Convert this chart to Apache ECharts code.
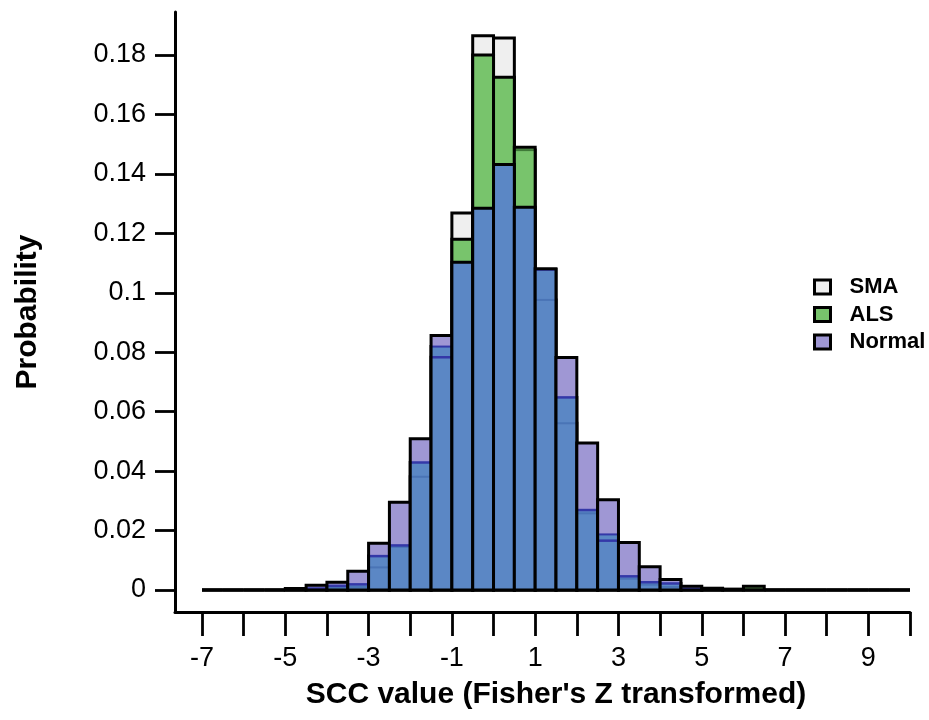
<!DOCTYPE html>
<html>
<head>
<meta charset="utf-8">
<script src="https://cdn.jsdelivr.net/npm/echarts@6/dist/echarts.min.js"></script>
<style>
html,body{margin:0;padding:0;background:#fff;}
#chart{width:929px;height:720px;}
</style>
</head>
<body>
<div id="chart"></div>
<script>
// Bin starts (width 0.5) from -7 to 9.5
var binStarts = [-7,-6.5,-6,-5.5,-5,-4.5,-4,-3.5,-3,-2.5,-2,-1.5,-1,-0.5,0,0.5,1,1.5,2,2.5,3,3.5,4,4.5,5,5.5,6,6.5,7,7.5,8,8.5,9,9.5];
var binWidth = 0.5;
var smaValues = [0,0,0,0,0,0,0.0008,0.001,0.0076,0.0145,0.0381,0.0819,0.1268,0.1865,0.1857,0.148,0.0976,0.0561,0.0258,0.0187,0.0038,0.0018,0.001,0,0,0,0,0,0,0,0,0,0,0];
var alsValues = [0,0,0,0,0,0.0005,0.0014,0.0019,0.0114,0.015,0.0429,0.0783,0.118,0.18,0.1725,0.149,0.1078,0.0648,0.0269,0.0166,0.0046,0.0026,0.0022,0.0004,0.0003,0,0.0013,0,0,0,0,0,0,0];
var normalValues = [0,0,0,0,0.0005,0.0016,0.0026,0.0063,0.0157,0.0295,0.0509,0.0856,0.1103,0.1284,0.1432,0.1288,0.1081,0.0782,0.0495,0.0304,0.016,0.0078,0.0035,0.0013,0.0006,0.0003,0,0,0,0,0,0,0,0];
var xTickLabels = ['-7','-5','-3','-1','1','3','5','7','9'];
var yTickLabels = ['0','0.02','0.04','0.06','0.08','0.1','0.12','0.14','0.16','0.18'];
var seriesNames = ['SMA','ALS','Normal'];

var C = {
  sma: '#efefef', als: '#78c46c', purple: '#9f97d4', blue: '#5b87c5',
  darkBlue: '#3438a8', faintBlue: '#4a74b6', darkGreen: '#3f7a38', black: '#000'
};
var LW = 3;

function mkData(vals){
  return binStarts.map(function(s,i){ return [s, s+binWidth, vals[i]]; });
}
function hline(api, x0, x1, v, color, w){
  var p0 = api.coord([x0, v]), p1 = api.coord([x1, v]);
  return {type:'line', shape:{x1:p0[0], y1:p0[1], x2:p1[0], y2:p1[1]}, style:{stroke:color, lineWidth:w}};
}
function rectEl(api, x0, x1, v0, v1, style){
  var a = api.coord([x0, v1]), b = api.coord([x1, v0]);
  return {type:'rect', shape:{x:a[0], y:a[1], width:b[0]-a[0], height:b[1]-a[1]}, style:style};
}

function renderSMA(params, api){
  var x0 = api.value(0), x1 = api.value(1), v = api.value(2);
  if (v <= 0) return hline(api, x0, x1, 0, C.black, 3);
  return rectEl(api, x0, x1, 0, v, {fill:C.sma, stroke:C.black, lineWidth:LW});
}
function renderALS(params, api){
  var i = params.dataIndex;
  var x0 = api.value(0), x1 = api.value(1), v = api.value(2);
  if (v <= 0) return hline(api, x0, x1, 0, C.black, 3);
  var ch = [rectEl(api, x0, x1, 0, v, {fill:C.als, stroke:null})];
  var s = smaValues[i];
  if (s > 0 && s < v) ch.push(hline(api, x0, x1, s, C.darkGreen, 2));
  ch.push(rectEl(api, x0, x1, 0, v, {fill:null, stroke:C.black, lineWidth:LW}));
  return {type:'group', children:ch};
}
function renderNormal(params, api){
  var i = params.dataIndex;
  var x0 = api.value(0), x1 = api.value(1), v = api.value(2);
  if (v <= 0) return hline(api, x0, x1, 0, C.black, 3);
  var a = alsValues[i], s = smaValues[i];
  var m = Math.min(Math.max(a, s), v);
  var ch = [rectEl(api, x0, x1, 0, v, {fill:C.purple, stroke:null})];
  if (m > 0) ch.push(rectEl(api, x0, x1, 0, m, {fill:C.blue, stroke:null}));
  if (s > 0 && s < v) ch.push(hline(api, x0, x1, s, (s < a ? C.faintBlue : C.darkBlue), 2));
  if (a > 0 && a < v) ch.push(hline(api, x0, x1, a, C.darkBlue, 2.5));
  ch.push(rectEl(api, x0, x1, 0, v, {fill:null, stroke:C.black, lineWidth:LW}));
  return {type:'group', children:ch};
}

var chart = echarts.init(document.getElementById('chart'), null, {renderer:'canvas'});
var font = 'Liberation Sans, Arial, sans-serif';
chart.setOption({
  animation: false,
  backgroundColor: '#fff',
  textStyle: {fontFamily: font, color:'#000'},
  grid: [
    {left:202, right:19, top:55, bottom:130},
    {left:175, right:19, top:12, bottom:108}
  ],
  xAxis: [
    {type:'value', gridIndex:0, min:-7, max:10, interval:1, position:'bottom', offset:22,
     axisLine:{show:false, onZero:false}, splitLine:{show:false},
     axisTick:{show:true, length:24, lineStyle:{color:'#000', width:2.8}},
     axisLabel:{fontSize:27, color:'#000', fontFamily:font, margin:33,
       formatter:function(v){ var t = String(Math.round(v)); return xTickLabels.indexOf(t) >= 0 ? t : ''; }},
     name:"SCC value (Fisher's Z transformed)", nameLocation:'middle', nameGap:68,
     nameTextStyle:{fontSize:30, fontWeight:'bold', color:'#000', fontFamily:font}},
    {type:'value', gridIndex:1, min:0, max:1, axisLine:{show:true, onZero:false, lineStyle:{color:'#000', width:3}},
     axisTick:{show:false}, axisLabel:{show:false}, splitLine:{show:false}}
  ],
  yAxis: [
    {type:'value', gridIndex:0, min:0, max:0.18, interval:0.02, position:'left', offset:27,
     axisLine:{show:false, onZero:false}, splitLine:{show:false},
     axisTick:{show:true, length:20, lineStyle:{color:'#000', width:2.8}},
     axisLabel:{fontSize:27, color:'#000', fontFamily:font, margin:29,
       formatter:function(v){ return yTickLabels[Math.round(v/0.02)]; }}},
    {type:'value', gridIndex:1, min:0, max:1, axisLine:{show:true, onZero:false, lineStyle:{color:'#000', width:3}},
     axisTick:{show:false}, axisLabel:{show:false}, splitLine:{show:false},
     name:'Probability', nameLocation:'middle', nameGap:132, nameRotate:90,
     nameTextStyle:{fontSize:30, fontWeight:'bold', color:'#000', fontFamily:font}}
  ],
  legend: {
    orient:'vertical', left:808, top:271, itemWidth:16, itemHeight:14, itemGap:5.5, icon:'rect',
    textStyle:{fontSize:22, fontWeight:'bold', color:'#000', fontFamily:font, padding:[0,0,0,14]},
    data:[
      {name:'SMA', itemStyle:{color:C.sma, borderColor:'#000', borderWidth:3}},
      {name:'ALS', itemStyle:{color:C.als, borderColor:'#000', borderWidth:3}},
      {name:'Normal', itemStyle:{color:C.purple, borderColor:'#000', borderWidth:3}}
    ]
  },
  series: [
    {name:seriesNames[0], type:'custom', xAxisIndex:0, yAxisIndex:0, clip:false, z:2,
     itemStyle:{color:C.sma}, renderItem:renderSMA, data:mkData(smaValues), encode:{x:[0,1], y:2}},
    {name:seriesNames[1], type:'custom', xAxisIndex:0, yAxisIndex:0, clip:false, z:3,
     itemStyle:{color:C.als}, renderItem:renderALS, data:mkData(alsValues), encode:{x:[0,1], y:2}},
    {name:seriesNames[2], type:'custom', xAxisIndex:0, yAxisIndex:0, clip:false, z:4,
     itemStyle:{color:C.purple}, renderItem:renderNormal, data:mkData(normalValues), encode:{x:[0,1], y:2}}
  ]
});
</script>
</body>
</html>
